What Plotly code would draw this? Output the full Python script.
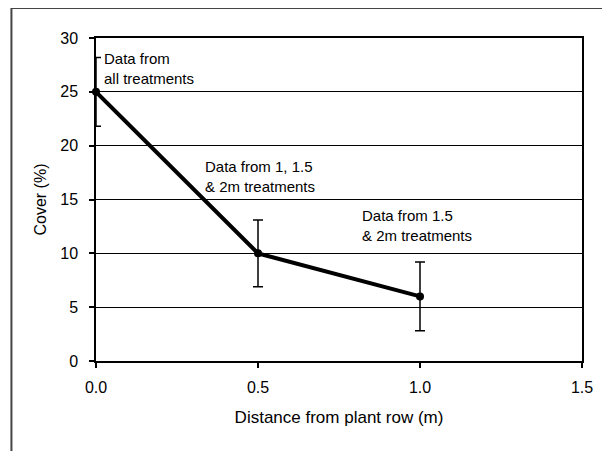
import plotly.graph_objects as go

distance = [0.0, 0.5, 1.0]
cover = [25.0, 10.0, 6.0]
cover_err = [3.2, 3.1, 3.2]
x_ticks = [0.0, 0.5, 1.0, 1.5]
x_tick_labels = ["0.0", "0.5", "1.0", "1.5"]
y_ticks = [0, 5, 10, 15, 20, 25, 30]
notes_text = ["Data from<br>all treatments",
              "Data from 1, 1.5<br>& 2m treatments",
              "Data from 1.5<br>& 2m treatments"]
notes_x = [0.02, 0.33, 0.815]
notes_y = [27.2, 17.1, 12.6]

FONT = "Liberation Sans, Arial, sans-serif"

fig = go.Figure()
fig.add_trace(go.Scatter(
    x=distance, y=cover, mode="lines+markers",
    line=dict(color="black", width=4),
    marker=dict(color="black", size=8),
    error_y=dict(type="data", array=cover_err, color="black", thickness=1.5, width=5),
    cliponaxis=False, showlegend=False,
))

for t, x, y in zip(notes_text, notes_x, notes_y):
    fig.add_annotation(x=x, y=y, text=t, showarrow=False, xanchor="left", yanchor="middle",
                       align="left", font=dict(family=FONT, size=15, color="black"))

# outer frame (left and top edges visible)
fig.add_shape(type="line", xref="paper", yref="paper", x0=-0.174, x1=-0.174, y0=-0.4, y1=1.093,
              line=dict(color="#444444", width=2))
fig.add_shape(type="line", xref="paper", yref="paper", x0=-0.174, x1=1.2, y0=1.093, y1=1.093,
              line=dict(color="#444444", width=2))

fig.update_layout(
    width=610, height=451,
    margin=dict(l=88, r=36, t=30, b=98),
    paper_bgcolor="white", plot_bgcolor="white",
    font=dict(family=FONT, size=16, color="black"),
)
fig.update_xaxes(
    range=[0, 1.5], tickvals=x_ticks, ticktext=x_tick_labels,
    showgrid=False, zeroline=False,
    showline=True, linecolor="black", linewidth=1.5, mirror=True,
    ticks="outside", ticklen=5, tickcolor="black", tickwidth=1.5,
    ticklabelstandoff=6,
    title=dict(text="Distance from plant row (m)", font=dict(size=17), standoff=16),
)
fig.update_yaxes(
    range=[0, 30], tickvals=y_ticks,
    showgrid=True, gridcolor="black", gridwidth=1.2, zeroline=False,
    showline=True, linecolor="black", linewidth=1.5, mirror=True,
    ticks="outside", ticklen=5, tickcolor="black", tickwidth=1.5,
    ticklabelstandoff=8,
    title=dict(text="Cover (%)", font=dict(size=16), standoff=10),
)

fig.write_html("out.html")
